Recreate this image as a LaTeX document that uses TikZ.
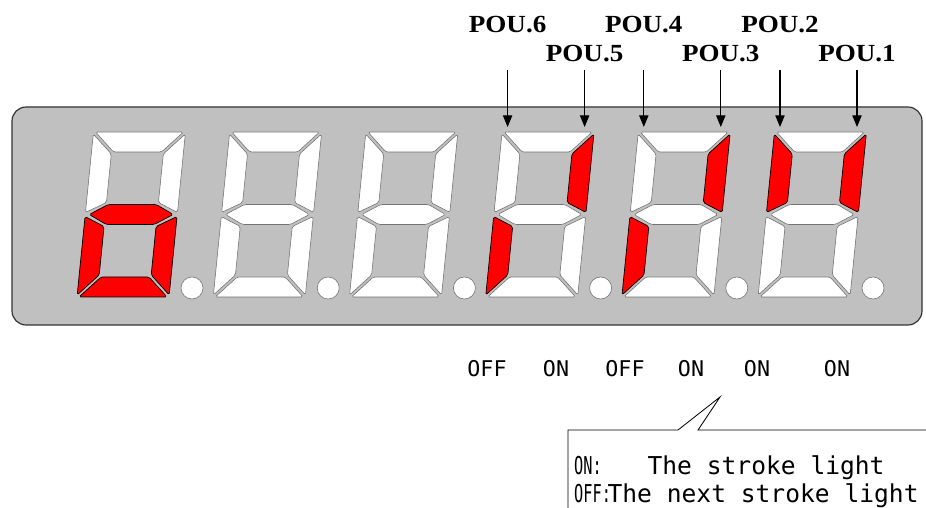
\documentclass[tikz,border=0pt]{standalone}
\usepackage{fontspec}
\usepackage{tikz}
\usetikzlibrary{arrows.meta, positioning}
\newfontfamily\pouserif[FakeStretch=1.1]{Liberation Serif}
\newfontfamily\gothmono{DejaVu Sans Mono}
\newfontfamily\gothnarrow[FakeStretch=0.62]{DejaVu Sans Mono}
\definecolor{panelgray}{RGB}{192,192,192}
\definecolor{segred}{RGB}{255,0,0}
\tikzset{seg/.style={fill=white, draw=black!55, line width=0.5pt, rounded corners=1.5pt},
  segon/.style={fill=segred, draw=black, line width=0.6pt, rounded corners=1.5pt},
  panel/.style={fill=panelgray, draw=black!80, line width=1pt, rounded corners=12pt},
  pouarrow/.style={-{Triangle[length=10pt, width=8pt]}, line width=0.9pt},
  poulabel/.style={font=\pouserif\bfseries\fontsize{21}{25}\selectfont, inner sep=0pt},
  statelabel/.style={font=\gothmono\fontsize{18.5}{20}\selectfont, inner sep=0pt},
  boxtext/.style={font=\gothmono\fontsize{21}{24.7}\selectfont, align=left, inner sep=0pt}}
% one slanted digit: #1 = left x, #2..#8 = styles of segments a b c d e f g
\newcommand{\segdigit}[8]{%
  \begin{scope}[shift={(#1,211)}, xslant=0.1]
    \draw[#2] (2,165) -- (90,165) -- (70,145) -- (22,145) -- cycle;
    \draw[#3] (72,143) -- (92,163) -- (92,84.5) -- (72,94.5) -- cycle;
    \draw[#4] (92,2) -- (72,22) -- (72,70.5) -- (92,80.5) -- cycle;
    \draw[#5] (2,0) -- (90,0) -- (70,20) -- (22,20) -- cycle;
    \draw[#6] (0,2) -- (20,22) -- (20,70.5) -- (0,80.5) -- cycle;
    \draw[#7] (0,163) -- (20,143) -- (20,94.5) -- (0,84.5) -- cycle;
    \draw[#8] (4,82.5) -- (22,92.5) -- (70,92.5) -- (88,82.5) -- (70,72.5) -- (22,72.5) -- cycle;
  \end{scope}
  \begin{scope}[shift={(#1,211)}]
    \draw[seg] (115,9) circle[radius=11];
  \end{scope}}

\begin{document}
\begin{tikzpicture}[x=0.03cm, y=0.03cm]
\useasboundingbox (0,0) rectangle (926,508);
\clip (0,0) rectangle (926,508);
% display panel
\draw[panel] (12,183) rectangle (922,401);
\segdigit{77}{seg}{seg}{segon}{segon}{segon}{seg}{segon}
\segdigit{213.2}{seg}{seg}{seg}{seg}{seg}{seg}{seg}
\segdigit{349.4}{seg}{seg}{seg}{seg}{seg}{seg}{seg}
\segdigit{485.6}{seg}{segon}{seg}{seg}{segon}{seg}{seg}
\segdigit{621.8}{seg}{segon}{seg}{seg}{segon}{seg}{seg}
\segdigit{758}{seg}{segon}{seg}{seg}{seg}{segon}{seg}
% output bits
\foreach \n/\x/\up in {6/507.6/1.11cm, 5/584.6/0.24cm, 4/643.8/1.11cm, 3/720.8/0.24cm, 2/780/1.11cm, 1/857/0.24cm}{
  \coordinate (t\n) at (\x,438);
  \coordinate (h\n) at (\x,381);
  \node[poulabel, above=\up of t\n] (pou\n) {POU.\n};
  \draw[pouarrow] (t\n) -- (h\n);
}
% states
\node[statelabel] (st6) at (487,139) {OFF};
\node[statelabel] (st5) at (556,139) {ON};
\node[statelabel] (st4) at (625,139) {OFF};
\node[statelabel] (st3) at (691,139) {ON};
\node[statelabel] (st2) at (757,139) {ON};
\node[statelabel] (st1) at (837,139) {ON};
% callout
\coordinate (tip) at (720,111);
\draw[fill=white, line width=0.7pt] (568,-10) -- (568,78) -- (678,78) -- (tip) -- (698,78) -- (940,78) -- (940,-10) -- cycle;
\node[boxtext, anchor=north west] (legend) at (574,53)
  {\makebox[2.2cm][l]{\gothnarrow\fontsize{21}{24.7}\selectfont ON:}The stroke light\\
   \makebox[1.0cm][l]{\gothnarrow\fontsize{21}{24.7}\selectfont OFF:}The next stroke light};
\end{tikzpicture}
\end{document}
